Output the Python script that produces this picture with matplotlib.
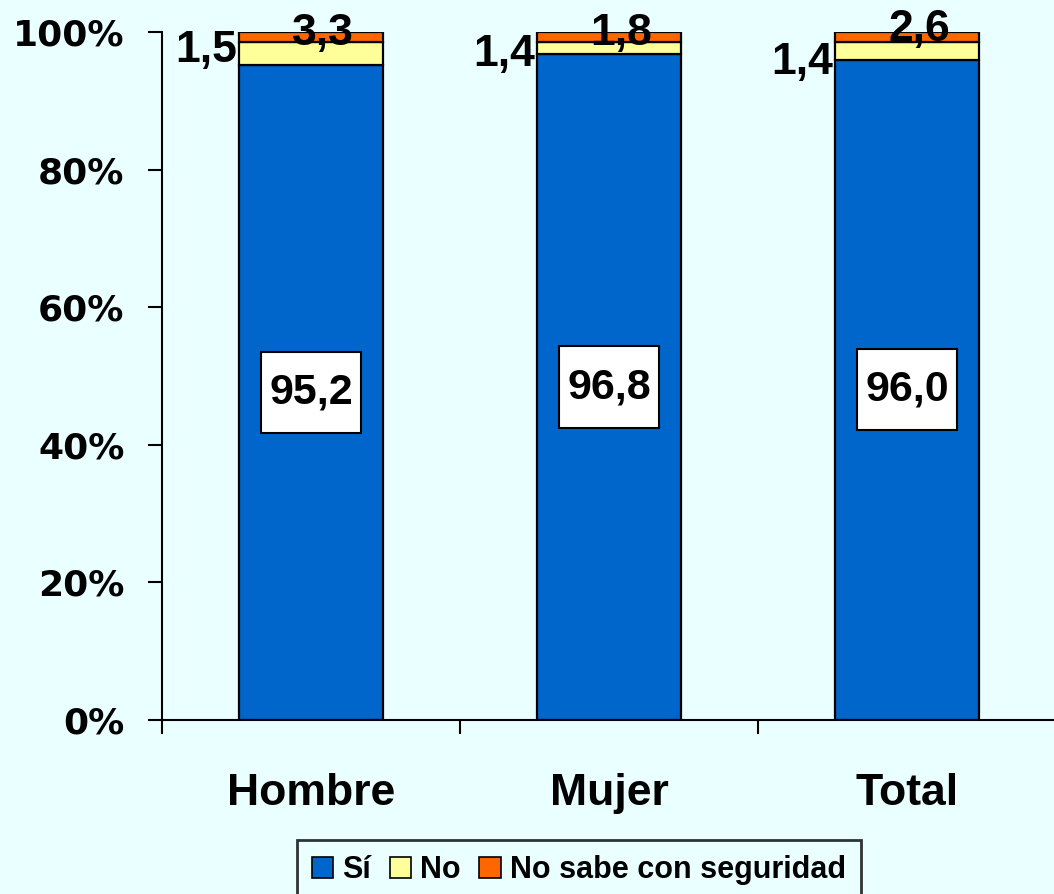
import matplotlib
matplotlib.use("Agg")
import matplotlib.pyplot as plt
from matplotlib.patches import Patch
from matplotlib.path import Path
import numpy as np

categories = ["Hombre", "Mujer", "Total"]
si = [95.2, 96.8, 96.0]
no = [3.3, 1.8, 2.6]
no_sabe = [1.5, 1.4, 1.4]
series_names = ["Sí", "No", "No sabe con seguridad"]
ytick_vals = [0, 20, 40, 60, 80, 100]
ytick_labels = ["0%", "20%", "40%", "60%", "80%", "100%"]

# label placement (positions, not data)
left_label_y = [97.3, 96.8, 95.6]
top_label_y = [99.8, 99.8, 100.4]

colors = ["#0066CC", "#FFFF99", "#FF6600"]
bg = "#EAFFFF"

plt.rcParams['font.family'] = ['Liberation Sans', 'DejaVu Sans']


def box_xy(x0, y0, width, height, mutation_size, padx=0.19, pady=0.48):
    px = padx * mutation_size
    py = pady * mutation_size
    x0, y0 = x0 - px, y0 - py
    x1, y1 = x0 + width + 2 * px, y0 + height + 2 * py
    return Path([(x0, y0), (x1, y0), (x1, y1), (x0, y1), (x0, y0)],
                closed=True)


fig = plt.figure(figsize=(10.54, 8.94), dpi=100, facecolor=bg)
ax = fig.add_axes([162/1054, 174/894, 894/1054, 688/894])
ax.set_facecolor(bg)

x = np.arange(len(categories))
w = 0.483
ax.bar(x, si, w, color=colors[0], edgecolor="black", linewidth=1.6, zorder=2)
ax.bar(x, no, w, bottom=si, color=colors[1], edgecolor="black", linewidth=1.6, zorder=2)
bottom3 = [a + b for a, b in zip(si, no)]
ax.bar(x, no_sabe, w, bottom=bottom3, color=colors[2], edgecolor="black", linewidth=1.6, zorder=2)

fmt = lambda v: f"{v:.1f}".replace(".", ",")

for i in range(len(categories)):
    ax.text(x[i], si[i] / 2, fmt(si[i]), ha="center", va="center", fontsize=31,
            fontweight="bold", zorder=5,
            bbox=dict(boxstyle=box_xy, facecolor="white", edgecolor="black", linewidth=1.5))
    ax.text(x[i] - w / 2 - 0.005, left_label_y[i], fmt(no_sabe[i]), ha="right", va="center",
            fontsize=32, fontweight="bold", zorder=5)
    ax.text(x[i] + 0.04, top_label_y[i], fmt(no[i]), ha="center", va="center",
            fontsize=32, fontweight="bold", zorder=5)

ax.set_xlim(-0.5, 2.5)
ax.set_ylim(0, 100)
ax.set_yticks(ytick_vals)
ax.set_yticklabels(ytick_labels, fontsize=26, fontweight="bold", family="DejaVu Sans")
ax.tick_params(axis="y", direction="out", length=10, width=1.5, pad=17)

ax.set_xticks([-0.5, 0.5, 1.5, 2.5])
ax.set_xticklabels([])
ax.tick_params(axis="x", which="major", direction="out", length=10, width=1.5)
ax.set_xticks(x, minor=True)
ax.set_xticklabels(categories, minor=True, fontsize=32, fontweight="bold")
ax.tick_params(axis="x", which="minor", length=0, pad=38)

for s in ["top", "right"]:
    ax.spines[s].set_visible(False)
for s in ["left", "bottom"]:
    ax.spines[s].set_linewidth(1.5)

handles = [Patch(facecolor=c, edgecolor="black", linewidth=1.2) for c in colors]
leg = fig.legend(handles, series_names, loc="upper center", bbox_to_anchor=(579/1054, 54/894),
                 ncol=3, frameon=True, fancybox=False, edgecolor="black", facecolor=bg,
                 prop=dict(size=22, weight="bold"), handlelength=0.7, handleheight=0.7,
                 handletextpad=0.3, columnspacing=0.6, borderpad=0.5, borderaxespad=0)
leg.get_frame().set_linewidth(2)

fig.savefig("out.png", dpi=100, facecolor=bg)
